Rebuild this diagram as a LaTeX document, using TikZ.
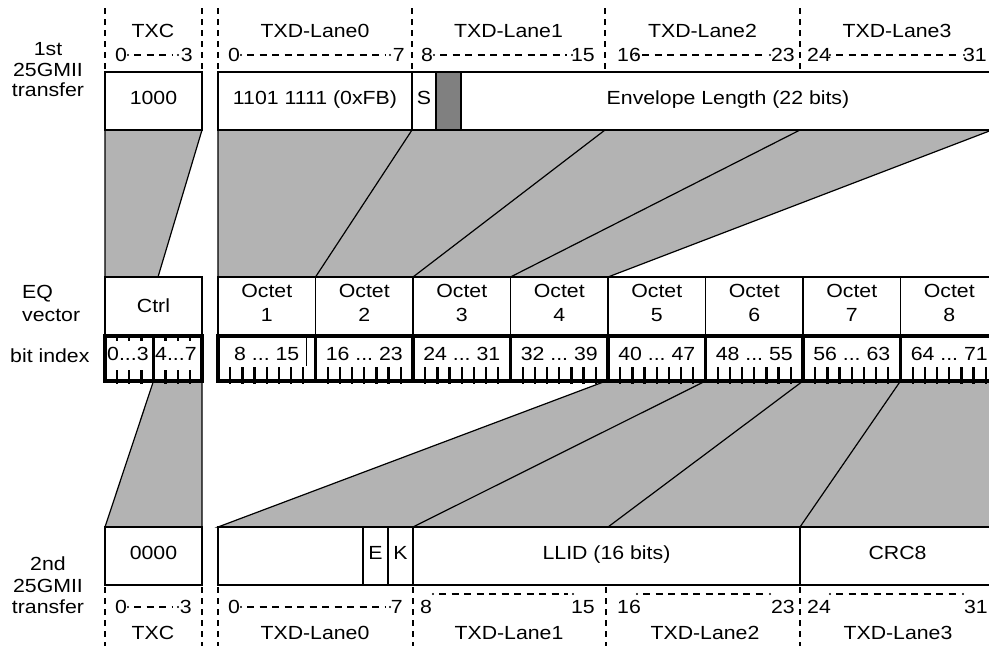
\documentclass[tikz,border=0pt]{standalone}
\usepackage{fontspec}
\setmainfont[FakeStretch=1.12]{Liberation Sans}
\definecolor{lg}{RGB}{179,179,179}
\definecolor{dg}{RGB}{128,128,128}
\newcommand{\dashrun}[3]{%
  \fill (#1,#3) circle (1.2pt);
  \draw[hdash] (#1+6,#3) -- (#2-5,#3);
  \fill (#2,#3) circle (1.2pt);}
\begin{document}
\begin{tikzpicture}[x=1pt,y=-1pt,
  every node/.style={font=\fontsize{19}{23}\selectfont},
  box/.style={draw, line width=1.7pt, inner sep=0pt, outer sep=0pt, anchor=north west, text height=12pt, text depth=6pt},
  bitbox/.style={draw, line width=3.2pt, inner sep=0pt, outer sep=0pt, anchor=north west},
  shade/.style={fill=lg, draw=black, line width=1.2pt},
  gline/.style={draw=black, line width=1.2pt},
  vdot/.style={line width=2.8pt, dash pattern=on 6pt off 5pt},
  hdash/.style={line width=2.2pt, dash pattern=on 7pt off 5.5pt},
  tick/.style={line width=2.3pt},
  lbl/.style={inner sep=0pt, anchor=base}]
\useasboundingbox (0,0) rectangle (989,646);
\clip (0,0) rectangle (989,646);

% ---------- gray mapping regions ----------
\filldraw[shade] (105,130) -- (202,130) -- (158,277) -- (105,277) -- cycle;
\filldraw[shade] (218,130) -- (992,130) -- (608,277) -- (218,277) -- cycle;
\draw[gline] (412,130) -- (315.5,277);
\draw[gline] (605,130) -- (413,277);
\draw[gline] (800,130) -- (510.5,277);

\filldraw[shade] (153.5,381) -- (202,381) -- (202,527) -- (105,527) -- cycle;
\filldraw[shade] (606,381) -- (995,381) -- (995,527) -- (218,527) -- cycle;
\draw[gline] (705.5,381) -- (413,527);
\draw[gline] (803,381) -- (608,527);
\draw[gline] (900.5,381) -- (800,527);

% ---------- left labels ----------
\node[lbl] (t1a) at (48,55) {1st};
\node[lbl] (t1b) at (48,76) {25GMII};
\node[lbl] (t1c) at (48,96.5) {transfer};
\node[lbl, anchor=base west] (eqa) at (22,298) {EQ};
\node[lbl, anchor=base west] (eqb) at (22,321) {vector};
\node[lbl, anchor=base west] (bix) at (10,362) {bit index};
\node[lbl] (t2a) at (48,570) {2nd};
\node[lbl] (t2b) at (48,592) {25GMII};
\node[lbl] (t2c) at (48,613) {transfer};

% ---------- top header ----------
\foreach \x in {105,202,218,412,605,800} \draw[vdot] (\x,8) -- (\x,72);
\node[lbl] (htxc) at (153,37) {TXC};
\node[lbl] (hl0) at (315,37) {TXD-Lane0};
\node[lbl] (hl1) at (508.5,37) {TXD-Lane1};
\node[lbl] (hl2) at (702.5,37) {TXD-Lane2};
\node[lbl] (hl3) at (897,37) {TXD-Lane3};
\node[lbl, anchor=base west] (ha0) at (115,61.5) {0};
\node[lbl, anchor=base east] (hb0) at (193,61.5) {3};
\node[lbl, anchor=base west] (ha1) at (228,61.5) {0};
\node[lbl, anchor=base east] (hb1) at (405,61.5) {7};
\node[lbl, anchor=base west] (ha2) at (421,61.5) {8};
\node[lbl, anchor=base east] (hb2) at (595,61.5) {15};
\node[lbl, anchor=base west] (ha3) at (617,61.5) {16};
\node[lbl, anchor=base east] (hb3) at (795,61.5) {23};
\node[lbl, anchor=base west] (ha4) at (807,61.5) {24};
\node[lbl, anchor=base east] (hb4) at (987,61.5) {31};
\dashrun{128}{178}{55}
\dashrun{241}{390}{55}
\dashrun{434}{572}{55}
\dashrun{636}{770}{55}
\dashrun{830}{964}{55}

% ---------- first transfer boxes ----------
\node[box, minimum width=97pt, minimum height=58pt] (txc1) at (105,72) {1000};
\node[box, minimum width=194pt, minimum height=58pt] (l0) at (218,72) {1101 1111 (0xFB)};
\node[box, minimum width=24pt, minimum height=58pt] (sbit) at (412,72) {S};
\node[box, fill=dg, minimum width=25pt, minimum height=58pt] (rsv) at (436,72) {};
\node[box, minimum width=534pt, minimum height=58pt] (env) at (461,72) {Envelope Length (22 bits)};

% ---------- EQ vector ----------
\node[box, minimum width=97pt, minimum height=59pt] (ctrl) at (105,277) {};
\node[lbl] (ctrlt) at (153.5,312) {Ctrl};
\node[bitbox, minimum width=48.5pt, minimum height=45pt] (cb1) at (105,336) {};
\node[bitbox, minimum width=48.5pt, minimum height=45pt] (cb2) at (153.5,336) {};
\node[lbl, anchor=base west] (cb1t) at (107,360) {0...3};
\node[lbl, anchor=base west] (cb2t) at (155,360) {4...7};
\foreach \s in {105,153.5} \foreach \j in {1,2,3} {
  \draw[tick] (\s+12.125*\j,370) -- (\s+12.125*\j,384);
  \draw[tick] (\s+12.125*\j,336) -- (\s+12.125*\j,341);
}
\foreach \i/\a/\b in {1/8/15,2/16/23,3/24/31,4/32/39,5/40/47,6/48/55,7/56/63,8/64/71}{
  \pgfmathsetmacro\xx{218+97.5*(\i-1)}
  \node[box, minimum width=97.5pt, minimum height=59pt] (oc\i) at (\xx,277) {};
  \node[lbl] (ot\i) at (\xx+48.75,297) {Octet};
  \node[lbl] (on\i) at (\xx+48.75,321) {\i};
  \node[bitbox, minimum width=97.5pt, minimum height=45pt] (bb\i) at (\xx,336) {};
  \node[lbl] (bt\i) at (\xx+48.75,360) {\a\ ...\ \b};
  \foreach \j in {1,...,7} \draw[tick] (\xx+12.1875*\j,367) -- (\xx+12.1875*\j,384);
}
\draw[line width=1pt] (306,338) -- (306,366);

% ---------- second transfer boxes ----------
\node[box, minimum width=97pt, minimum height=58pt] (txc2) at (105,527) {0000};
\node[box, minimum width=145pt, minimum height=58pt] (pad) at (218,527) {};
\node[box, minimum width=25pt, minimum height=58pt] (ebit) at (363,527) {E};
\node[box, minimum width=25pt, minimum height=58pt] (kbit) at (388,527) {K};
\node[box, minimum width=387pt, minimum height=58pt] (llid) at (413,527) {LLID (16 bits)};
\node[box, minimum width=195pt, minimum height=58pt] (crc) at (800,527) {CRC8};

% ---------- bottom header ----------
\foreach \x in {105,202,218,413,606,800} \draw[vdot] (\x,587) -- (\x,646);
\node[lbl, anchor=base west] (ba0) at (115,613) {0};
\node[lbl, anchor=base east] (bb0) at (192,613) {3};
\node[lbl, anchor=base west] (ba1) at (228,613) {0};
\node[lbl, anchor=base east] (bbl1) at (403,613) {7};
\node[lbl, anchor=base west] (ba2) at (420,613) {8};
\node[lbl, anchor=base east] (bbl2) at (595,613) {15};
\node[lbl, anchor=base west] (ba3) at (617,613) {16};
\node[lbl, anchor=base east] (bbl3) at (795,613) {23};
\node[lbl, anchor=base west] (ba4) at (807,613) {24};
\node[lbl, anchor=base east] (bbl4) at (988,613) {31};
\dashrun{128}{178}{607}
\dashrun{241}{390}{607}
\dashrun{433}{573}{594}
\dashrun{637}{770}{594}
\dashrun{830}{963}{594}
\node[lbl] (btxc) at (153,639) {TXC};
\node[lbl] (bl0) at (315,639) {TXD-Lane0};
\node[lbl] (bl1) at (509,639) {TXD-Lane1};
\node[lbl] (bl2) at (705,639) {TXD-Lane2};
\node[lbl] (bl3) at (898,639) {TXD-Lane3};
\end{tikzpicture}
\end{document}
